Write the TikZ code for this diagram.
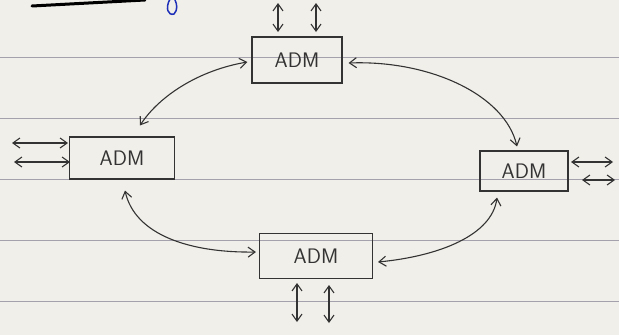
\documentclass[tikz,border=0pt]{standalone}
\usetikzlibrary{arrows.meta}
\definecolor{paper}{HTML}{F1EFE9}
\definecolor{rule}{HTML}{A4A0AC}
\definecolor{pencil}{HTML}{333333}
\definecolor{ink}{HTML}{1E2FB8}
\tikzset{
	adm/.style={draw=pencil, line width=1.1pt, inner sep=0pt, text=pencil, font=\fontsize{21}{24}\sffamily},
	link/.style={draw=pencil, line width=1.1pt, {Straight Barb[length=7pt,width=10pt]}-{Straight Barb[length=7pt,width=10pt]}},
}

\begin{document}
\begin{tikzpicture}[x=1pt, y=-1pt]
		%%%%% START %%%%%
		\fill[paper] (0,0) rectangle (619,335);
		\useasboundingbox (0,0) rectangle (619,335);
		\foreach \y in {57,118,179,240,301}
			\draw[rule, line width=1pt] (0,\y) -- (619,\y);
		
		% pen strokes at the top edge
		\draw[black, line width=3pt, line cap=round] (32,6) -- (145,0);
		\draw[ink, line width=1.5pt, line cap=round] (170,-1) .. controls (165,8) and (168,16) .. (174,14) .. controls (178,10) and (177,4) .. (175,0);
		
		% the four multiplexers
		\node[adm, minimum width=90pt, minimum height=46pt] (admN) at (297,60) {ADM};
		\node[adm, minimum width=105pt, minimum height=42pt] (admW) at (122,158) {ADM};
		\node[adm, minimum width=88pt, minimum height=40pt] (admE) at (524,171) {ADM};
		\node[adm, minimum width=113pt, minimum height=45pt] (admS) at (316,256) {ADM};
		
		% ring
		\draw[link] ([xshift=18pt,yshift=11pt]admW.north) .. controls (160,95) and (200,70) .. ([yshift=-2pt,xshift=-4pt]admN.west);
		\draw[link] ([yshift=-3pt,xshift=6pt]admN.east) .. controls (430,60) and (505,95) .. ([xshift=-7pt,yshift=4pt]admE.north);
		\draw[link] ([xshift=3pt,yshift=-11pt]admW.south) .. controls (135,235) and (190,253) .. ([xshift=-3pt,yshift=4pt]admS.west);
		\draw[link] ([xshift=5pt,yshift=-6pt]admS.east) .. controls (440,256) and (492,235) .. ([xshift=-27pt,yshift=-6pt]admE.south);
		
		% tributaries
		\coordinate (n1a) at (278,3);   \coordinate (n1b) at (278,32);
		\coordinate (n2a) at (316,3);   \coordinate (n2b) at (316,32);
		\coordinate (w1a) at (12,143);  \coordinate (w1b) at (68,143);
		\coordinate (w2a) at (14,162);  \coordinate (w2b) at (70,162);
		\coordinate (e1a) at (571,162); \coordinate (e1b) at (613,162);
		\coordinate (e2a) at (582,180); \coordinate (e2b) at (615,180);
		\coordinate (s1a) at (297,283); \coordinate (s1b) at (297,322);
		\coordinate (s2a) at (329,285); \coordinate (s2b) at (329,323);
		\foreach \a/\b in {n1a/n1b, n2a/n2b, w1a/w1b, w2a/w2b, e1a/e1b, e2a/e2b, s1a/s1b, s2a/s2b}
			\draw[link] (\a) -- (\b);
		%%%%% END %%%%%
\end{tikzpicture}
\end{document}
